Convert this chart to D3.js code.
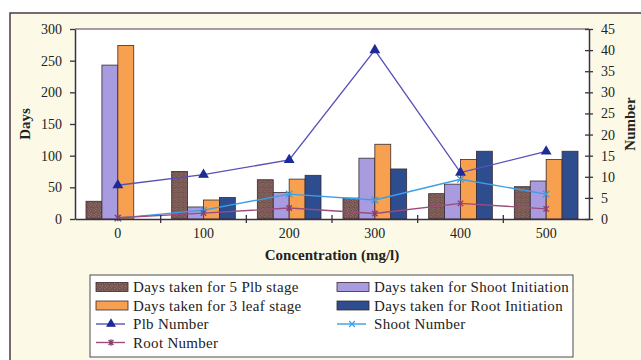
<!DOCTYPE html>
<html>
<head>
<meta charset="utf-8">
<script src="https://cdn.jsdelivr.net/npm/d3@7"></script>
<style>
  html, body { margin: 0; padding: 0; background: #fff; }
  svg { display: block; font-family: 'Liberation Serif', 'DejaVu Serif', serif; }
</style>
</head>
<body>
<div class="container"></div>
<script>
// data
const concentrations = ['0', '100', '200', '300', '400', '500']
const plbStageDays = [28, 75, 62, 33, 40, 51]
const shootInitDays = [243, 19, 42, 96, 55, 60]
const leafStageDays = [274, 30, 63, 118, 94, 94]
const rootInitDays = [0, 34, 69, 79, 107, 107]
const plbNumber = [8, 10.5, 14, 40, 11, 16]
const shootNumber = [0.2, 2.1, 5.9, 4.5, 9.4, 5.9]
const rootNumber = [0.3, 1.4, 2.6, 1.3, 3.7, 2.4]
const daysTicks = [0, 50, 100, 150, 200, 250, 300]
const numberTicks = [0, 5, 10, 15, 20, 25, 30, 35, 40, 45]

const WIDTH = 641
const HEIGHT = 360
const PLOT = { LEFT: 75, RIGHT: 589, TOP: 29, BOTTOM: 219 }
const TICK_FONT = '14px'
const TITLE_FONT = '15px'
const LEGEND_FONT = '15px'

const barSeries = [
  { name: 'Days taken for 5 Plb stage', values: plbStageDays, fill: 'url(#speckle)' },
  { name: 'Days taken for Shoot Initiation', values: shootInitDays, fill: '#a99be0' },
  { name: 'Days taken for 3 leaf stage', values: leafStageDays, fill: '#f7a04f' },
  { name: 'Days taken for Root Initiation', values: rootInitDays, fill: '#2d4d8f' },
]

// asterisk marker for root number
const symbolStar = {
  draw(ctx, size) {
    const r = Math.sqrt(size) / 2
    ctx.moveTo(-r, -r); ctx.lineTo(r, r)
    ctx.moveTo(-r, r); ctx.lineTo(r, -r)
    ctx.moveTo(0, -r * 1.3); ctx.lineTo(0, r * 1.3)
  }
}

const lineSeries = [
  { name: 'Plb Number', values: plbNumber, stroke: '#5752b8', marker: '#1e2a96', symbol: d3.symbolTriangle, size: 32, filled: true },
  { name: 'Shoot Number', values: shootNumber, stroke: '#3a9fe6', marker: '#3a9fe6', symbol: d3.symbolTimes, size: 30, filled: false },
  { name: 'Root Number', values: rootNumber, stroke: '#9a4c7c', marker: '#8a3c6c', symbol: symbolStar, size: 30, filled: false },
]

const svg = d3.select('.container')
  .append('svg')
  .attr('width', WIDTH)
  .attr('height', HEIGHT)

// speckled fill for the brown bars
const pat = svg.append('defs').append('pattern')
  .attr('id', 'speckle')
  .attr('patternUnits', 'userSpaceOnUse')
  .attr('width', 5).attr('height', 5)
pat.append('rect').attr('width', 5).attr('height', 5).attr('fill', '#7a5853')
;[[0, 0], [3, 1], [1, 3], [4, 4]].forEach(([px, py]) => {
  pat.append('rect').attr('x', px).attr('y', py).attr('width', 1).attr('height', 1).attr('fill', '#8e716c')
})
;[[2, 2], [4, 0]].forEach(([px, py]) => {
  pat.append('rect').attr('x', px).attr('y', py).attr('width', 1).attr('height', 1).attr('fill', '#6a4a46')
})

// outer frame
svg.append('rect')
  .attr('x', 10).attr('y', 13)
  .attr('width', WIDTH).attr('height', HEIGHT)
  .attr('fill', '#fcfae6')
  .attr('stroke', '#4a3a48')
  .attr('stroke-width', 1.5)

// plot area
svg.append('rect')
  .attr('x', PLOT.LEFT).attr('y', PLOT.TOP)
  .attr('width', PLOT.RIGHT - PLOT.LEFT).attr('height', PLOT.BOTTOM - PLOT.TOP)
  .attr('fill', '#fff')
svg.append('line')
  .attr('x1', PLOT.LEFT).attr('x2', PLOT.RIGHT)
  .attr('y1', PLOT.TOP).attr('y2', PLOT.TOP)
  .attr('stroke', '#4a3a5a').attr('stroke-width', 1.2)

// scales
const x0 = d3.scaleBand()
  .domain(concentrations)
  .range([PLOT.LEFT, PLOT.RIGHT])
const x1 = d3.scaleBand()
  .domain(barSeries.map(s => s.name))
  .range([11, x0.bandwidth() - 11])
const yDays = d3.scaleLinear().domain([0, 300]).range([PLOT.BOTTOM, PLOT.TOP])
const yNum = d3.scaleLinear().domain([0, 45]).range([PLOT.BOTTOM, PLOT.TOP])

// bars
const groups = svg.append('g')
  .selectAll('g')
  .data(concentrations)
  .join('g')
    .attr('transform', d => `translate(${x0(d)},0)`)

groups.selectAll('rect')
  .data((d, i) => barSeries.filter(s => s.values[i] > 0).map(s => ({ s, v: s.values[i] })))
  .join('rect')
    .attr('x', d => x1(d.s.name))
    .attr('y', d => yDays(d.v))
    .attr('width', x1.bandwidth())
    .attr('height', d => yDays(0) - yDays(d.v))
    .attr('fill', d => d.s.fill)
    .attr('stroke', '#3a2a30')
    .attr('stroke-width', 0.8)

// lines on the right axis
const lineGen = d3.line()
  .x((d, i) => x0(concentrations[i]) + x0.bandwidth() / 2)
  .y(d => yNum(d))

lineSeries.forEach(s => {
  svg.append('path')
    .datum(s.values)
    .attr('d', lineGen)
    .attr('fill', 'none')
    .attr('stroke', s.stroke)
    .attr('stroke-width', 1.4)
  svg.append('g')
    .selectAll('path')
    .data(s.values)
    .join('path')
      .attr('transform', (d, i) => `translate(${x0(concentrations[i]) + x0.bandwidth() / 2},${yNum(d)})`)
      .attr('d', d3.symbol(s.symbol, s.size))
      .attr('fill', s.filled ? s.marker : 'none')
      .attr('stroke', s.marker)
      .attr('stroke-width', 1.3)
})

// axes
const axisColor = '#3a3040'
function styleAxis(g) {
  g.select('.domain').attr('stroke', axisColor).attr('stroke-width', 1.5)
  g.selectAll('.tick line').attr('stroke', axisColor).attr('stroke-width', 1.3)
  g.selectAll('.tick text')
    .attr('fill', '#222')
    .attr('font-size', TICK_FONT)
    .attr('font-family', "'Liberation Serif', serif")
}

svg.append('g')
  .attr('transform', `translate(${PLOT.LEFT},0)`)
  .call(d3.axisLeft(yDays).tickValues(daysTicks).tickSizeInner(5).tickSizeOuter(0).tickPadding(8))
  .call(styleAxis)

svg.append('g')
  .attr('transform', `translate(${PLOT.RIGHT},0)`)
  .call(d3.axisRight(yNum).tickValues(numberTicks).tickSizeInner(4).tickSizeOuter(0).tickPadding(8))
  .call(styleAxis)
  .call(g => g.selectAll('.tick line').attr('x1', -4))

// x axis: labels at band centres, tick marks on band edges
const xAxisG = svg.append('g')
  .attr('transform', `translate(0,${PLOT.BOTTOM})`)
  .call(d3.axisBottom(x0).tickSize(0).tickPadding(9))
  .call(styleAxis)
xAxisG.selectAll('.edge')
  .data(concentrations.slice(1))
  .join('line')
    .attr('class', 'edge')
    .attr('x1', d => x0(d)).attr('x2', d => x0(d))
    .attr('y1', -4).attr('y2', 4)
    .attr('stroke', axisColor).attr('stroke-width', 1.3)

// axis titles
svg.append('text')
  .text('Days')
  .attr('transform', `translate(30,${(PLOT.TOP + PLOT.BOTTOM) / 2}) rotate(-90)`)
  .attr('text-anchor', 'middle')
  .attr('font-weight', 'bold')
  .attr('font-size', TITLE_FONT)
  .attr('fill', '#222')

svg.append('text')
  .text('Number')
  .attr('transform', `translate(635,${(PLOT.TOP + PLOT.BOTTOM) / 2}) rotate(-90)`)
  .attr('text-anchor', 'middle')
  .attr('font-weight', 'bold')
  .attr('font-size', TITLE_FONT)
  .attr('fill', '#222')

svg.append('text')
  .text('Concentration (mg/l)')
  .attr('x', (PLOT.LEFT + PLOT.RIGHT) / 2)
  .attr('y', 260)
  .attr('text-anchor', 'middle')
  .attr('font-weight', 'bold')
  .attr('font-size', TITLE_FONT)
  .attr('fill', '#222')

// legend
const legend = svg.append('g')
legend.append('rect')
  .attr('x', 90).attr('y', 275)
  .attr('width', 483).attr('height', 82)
  .attr('fill', '#fff')
  .attr('stroke', '#4a4a55')
  .attr('stroke-width', 1)

const legendItems = [
  { ...barSeries[0], kind: 'bar', col: 0, row: 0 },
  { ...barSeries[1], kind: 'bar', col: 1, row: 0 },
  { ...barSeries[2], kind: 'bar', col: 0, row: 1 },
  { ...barSeries[3], kind: 'bar', col: 1, row: 1 },
  { ...lineSeries[0], kind: 'line', col: 0, row: 2 },
  { ...lineSeries[1], kind: 'line', col: 1, row: 2 },
  { ...lineSeries[2], kind: 'line', col: 0, row: 3 },
]
const colX = [96, 337]
const rowY = [287, 305.5, 324, 342.5]

legendItems.forEach(it => {
  const g = legend.append('g').attr('transform', `translate(${colX[it.col]},${rowY[it.row]})`)
  if (it.kind === 'bar') {
    g.append('rect')
      .attr('x', 0).attr('y', -4.5)
      .attr('width', 32).attr('height', 9)
      .attr('fill', it.fill)
      .attr('stroke', '#3a2a30').attr('stroke-width', 0.8)
  } else {
    g.append('line')
      .attr('x1', 0).attr('x2', 29)
      .attr('stroke', it.stroke).attr('stroke-width', 1.4)
    g.append('path')
      .attr('transform', 'translate(15,0)')
      .attr('d', d3.symbol(it.symbol, it.size * 0.8))
      .attr('fill', it.filled ? it.marker : 'none')
      .attr('stroke', it.marker).attr('stroke-width', 1.3)
  }
  g.append('text')
    .text(it.name)
    .attr('x', 37)
    .attr('dy', '0.35em')
    .attr('font-size', LEGEND_FONT)
    .attr('letter-spacing', '0.3px')
    .attr('fill', '#222')
})
</script>
</body>
</html>
